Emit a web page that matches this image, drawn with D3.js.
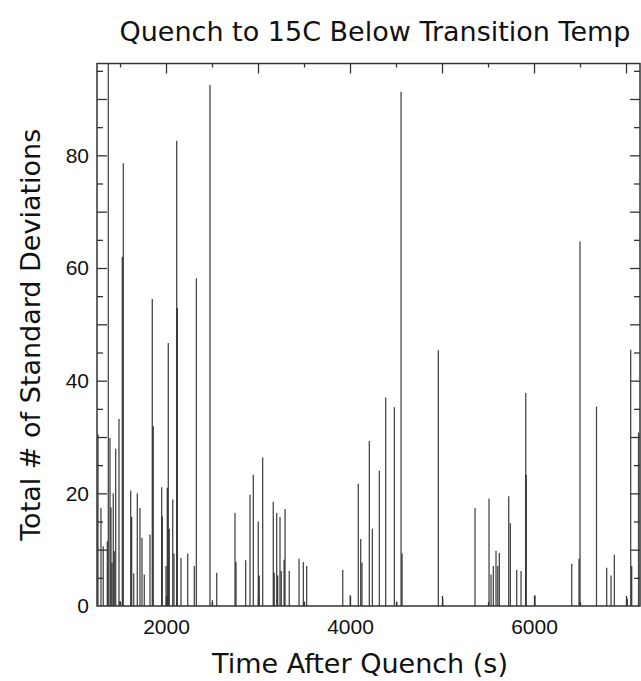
<!doctype html>
<html lang="en">
  <head>
    <meta charset="utf-8">
    <title>Quench to 15C Below Transition Temp</title>
    <style>
      body { margin: 0; background: #fff; }
      svg { display: block; }
      .axis path { display: none; }
      .axis line { stroke: #333; stroke-width: 1.3; }
      .axis text { font-family: "Liberation Sans", Arial, sans-serif; font-size: 21px; fill: #111; }
      .label { font-family: "DejaVu Sans", sans-serif; font-size: 27px; fill: #111; }
    </style>
  </head>
  <body>
    <script src="https://cdn.jsdelivr.net/npm/d3@7"></script>
    <script>

// event times (s after quench) and their total # of std deviations
var times = [1261, 1293, 1318, 1362, 1373, 1391, 1402, 1413, 1427, 1438, 1453, 1489, 1500,
             1525, 1536, 1616, 1627, 1649, 1688, 1717, 1739, 1764, 1826, 1851, 1862,
             1953, 1959, 2000, 2014, 2025, 2036, 2073, 2087, 2116, 2123, 2163, 2236, 2308,
             2330, 2478, 2503, 2551, 2750, 2761, 2866, 2913, 2949, 3003, 3014, 3051,
             3166, 3177, 3203, 3214, 3239, 3253, 3283, 3294, 3340, 3446, 3493, 3504, 3529,
             3921, 4003, 4090, 4116, 4130, 4210, 4243, 4319, 4388, 4482, 4508, 4555, 4566,
             4960, 5008, 5359, 5511, 5533, 5558, 5587, 5606, 5623, 5725, 5743, 5812, 5859,
             5910, 5915, 6011, 6410, 6489, 6500, 6679, 6790, 6837, 6873, 7014, 7051, 7062, 7136];

var values = [30.5, 17.4, 10.6, 11.5, 100, 29.8, 17.5, 7.7, 20, 9.7, 27.9, 33.2, 0.9,
              62, 78.6, 20.5, 15.8, 5.8, 20, 17.4, 12.1, 5.6, 12.7, 54.5, 31.9,
              21.1, 15.9, 7.1, 21, 46.7, 13.7, 18.9, 9.3, 82.6, 52.9, 8.5, 9.3, 7.1,
              58.2, 92.5, 1, 5.9, 16.5, 7.8, 8.1, 19.8, 23.3, 15, 5.4, 26.4,
              18.5, 5.9, 16.5, 5.4, 15.8, 6.2, 8.2, 17.2, 6.2, 8.4, 7.8, 0.8, 7.1,
              6.4, 1.9, 21.7, 11.9, 7.7, 29.3, 13.7, 24, 37, 35.3, 0.8, 91.3, 9.3,
              45.4, 1.3, 17.4, 19.1, 5.6, 7.1, 9.8, 7.1, 9.4, 19.5, 14.7, 6.4, 6.2,
              37.8, 23.3, 1.9, 7.5, 8.4, 64.7, 35.4, 6.8, 5.4, 9.1, 1.3, 45.5, 7.1, 30.8];

var xLabels = [2000, 4000, 6000];
var yLabels = [0, 20, 40, 60, 80];

var margin = {top: 63.5, right: 1, bottom: 75, left: 97},
    width  = 641 - margin.left - margin.right,
    height = 681 - margin.top - margin.bottom;

var svg = d3.select("body")
    .append("svg")
    .attr("width", 641)
    .attr("height", 681);

var chart = svg.append("g")
    .attr("transform", "translate(" + margin.left + "," + margin.top + ")");

var x = d3.scaleLinear().domain([1250, 7152]).range([0, width]);
var y = d3.scaleLinear().domain([0, 96.3]).range([height, 0]);

chart.append("clipPath").attr("id", "plot")
    .append("rect").attr("width", width).attr("height", height);

// vertical spikes
chart.append("g")
    .attr("clip-path", "url(#plot)")
    .selectAll("line")
    .data(times)
    .enter()
    .append("line")
    .attr("x1", function(d){ return x(d); })
    .attr("x2", function(d){ return x(d); })
    .attr("y1", y(0))
    .attr("y2", function(d, i){ return y(values[i]); })
    .attr("stroke", "#000")
    .attr("stroke-opacity", 0.72)
    .attr("stroke-width", 1.3);

var xMajor = d3.range(2000, 7001, 1000),
    xMinor = d3.range(1500, 7001, 1000),
    yMajor = d3.range(10, 91, 10),
    yMinor = d3.range(5, 96, 10);

function noText(a){ return a.tickFormat(""); }

// ticks, all pointing into the plot
chart.append("g").attr("class", "axis").call(noText(d3.axisTop(x).tickValues(xMajor).tickSize(-10)));
chart.append("g").attr("class", "axis").call(noText(d3.axisTop(x).tickValues(xMinor).tickSize(-4)));
chart.append("g").attr("class", "axis").attr("transform", "translate(0," + height + ")")
    .call(noText(d3.axisBottom(x).tickValues(xMajor).tickSize(-10)));
chart.append("g").attr("class", "axis").attr("transform", "translate(0," + height + ")")
    .call(noText(d3.axisBottom(x).tickValues(xMinor).tickSize(-4)));
chart.append("g").attr("class", "axis").call(noText(d3.axisLeft(y).tickValues(yMajor).tickSize(-10)));
chart.append("g").attr("class", "axis").call(noText(d3.axisLeft(y).tickValues(yMinor).tickSize(-6)));
chart.append("g").attr("class", "axis").attr("transform", "translate(" + width + ",0)")
    .call(noText(d3.axisRight(y).tickValues(yMajor).tickSize(-10)));
chart.append("g").attr("class", "axis").attr("transform", "translate(" + width + ",0)")
    .call(noText(d3.axisRight(y).tickValues(yMinor).tickSize(-6)));

// tick labels
chart.append("g").attr("class", "axis").attr("transform", "translate(0," + height + ")")
    .call(d3.axisBottom(x).tickValues(xLabels).tickSize(0).tickPadding(13).tickFormat(d3.format("d")));
chart.append("g").attr("class", "axis")
    .call(d3.axisLeft(y).tickValues(yLabels).tickSize(0).tickPadding(8));

// frame
chart.append("rect")
    .attr("width", width)
    .attr("height", height)
    .attr("fill", "none")
    .attr("stroke", "#333")
    .attr("stroke-width", 1.5);

svg.append("text")
    .attr("class", "label")
    .attr("x", 375)
    .attr("y", 41)
    .attr("text-anchor", "middle")
    .text("Quench to 15C Below Transition Temp");

svg.append("text")
    .attr("class", "label")
    .attr("x", 360)
    .attr("y", 673)
    .attr("text-anchor", "middle")
    .text("Time After Quench (s)");

svg.append("text")
    .attr("class", "label")
    .attr("transform", "translate(40," + (margin.top + height / 2) + ") rotate(-90)")
    .attr("text-anchor", "middle")
    .text("Total # of Standard Deviations");

    </script>
  </body>
</html>
